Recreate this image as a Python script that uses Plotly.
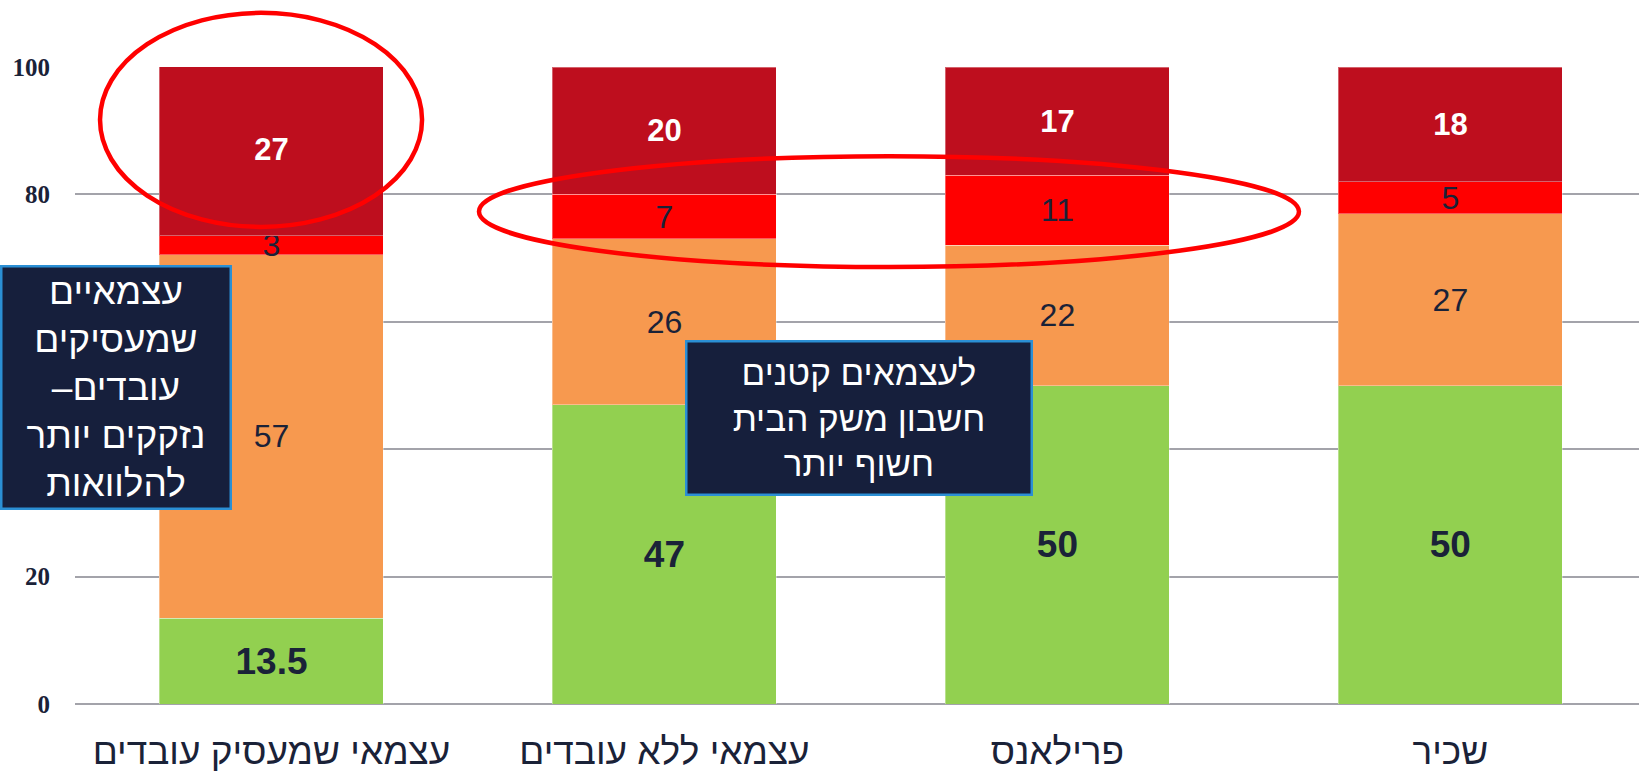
import plotly.graph_objects as go

categories = ["עצמאי שמעסיק עובדים", "עצמאי ללא עובדים", "פרילאנס", "שכיר"]
green_vals = [13.5, 47, 50, 50]
orange_vals = [57, 26, 22, 27]
red_vals = [3, 7, 11, 5]
darkred_vals = [27, 20, 17, 18]
y_ticks = [0, 20, 40, 60, 80, 100]
# 40 and 60 are hidden behind the text box in the reference
y_ticktext = ["0", "20", "", "", "80", "100"]

NAVY = "#1a2238"
series = [
    (green_vals, "#92d050", dict(size=37, color=NAVY, family="Liberation Sans", weight="bold")),
    (orange_vals, "#f7994f", dict(size=32, color=NAVY, family="Liberation Sans")),
    (red_vals, "#ff0000", dict(size=32, color=NAVY, family="Liberation Sans")),
    (darkred_vals, "#be0e1e", dict(size=31, color="white", family="Liberation Sans", weight="bold")),
]

fig = go.Figure()
for vals, color, font in series:
    fig.add_trace(go.Bar(
        x=categories, y=vals,
        marker=dict(color=color, line=dict(color="rgba(255,255,255,0.35)", width=1)),
        text=[f"{v:g}" for v in vals],
        textposition="inside", insidetextanchor="middle",
        constraintext="none", textangle=0,
        insidetextfont=font,
        hoverinfo="skip",
    ))

fig.update_layout(
    barmode="stack",
    bargap=0.43,
    width=1639, height=776,
    margin=dict(l=75, r=0, t=67, b=72),
    paper_bgcolor="white", plot_bgcolor="white",
    showlegend=False,
    xaxis=dict(
        range=[-0.5, 3.48],
        tickfont=dict(family="Liberation Sans", size=37, color=NAVY),
        showgrid=False, ticks="", showline=False,
        ticklabelstandoff=22,
    ),
    yaxis=dict(
        range=[0, 100], tickvals=y_ticks, ticktext=y_ticktext,
        tickfont=dict(family="Liberation Serif", size=25, color=NAVY, weight="bold"),
        showgrid=True, gridcolor="#a3a3aa", gridwidth=2,
        zeroline=True, zerolinecolor="#a3a3aa", zerolinewidth=2,
        ticks="", ticklabelstandoff=24,
    ),
)

# red ellipses
fig.add_shape(type="circle", xref="paper", yref="paper",
              x0=0.016, x1=0.2219, y0=0.749, y1=1.085,
              line=dict(color="#ff0000", width=4.5), layer="above")
fig.add_shape(type="circle", xref="paper", yref="paper",
              x0=0.2583, x1=0.7826, y0=0.686, y1=0.860,
              line=dict(color="#ff0000", width=4.5), layer="above")

fig.add_annotation(
    xref="paper", yref="paper", x=0.0259, y=0.4969,
    xanchor="center", yanchor="middle", showarrow=False,
    text="עצמאיים<br>שמעסיקים<br>עובדים–\u200f<br>נזקקים יותר<br>להלוואות",
    font=dict(family="Liberation Sans", size=37, color="white"), align="center",
    bgcolor="#161f3c", bordercolor="#2b8fd4", borderwidth=2.5, borderpad=0,
    width=227, height=240,
)
fig.add_annotation(
    xref="paper", yref="paper", x=0.5013, y=0.449,
    xanchor="center", yanchor="middle", showarrow=False,
    text="לעצמאים קטנים<br>חשבון משק הבית<br>חשוף יותר",
    font=dict(family="Liberation Sans", size=35, color="white"), align="center",
    bgcolor="#161f3c", bordercolor="#2b8fd4", borderwidth=2.5, borderpad=0,
    width=343, height=151,
)

fig.write_html("out.html", config={"displayModeBar": False},
               post_script="document.body.style.margin='0';")
